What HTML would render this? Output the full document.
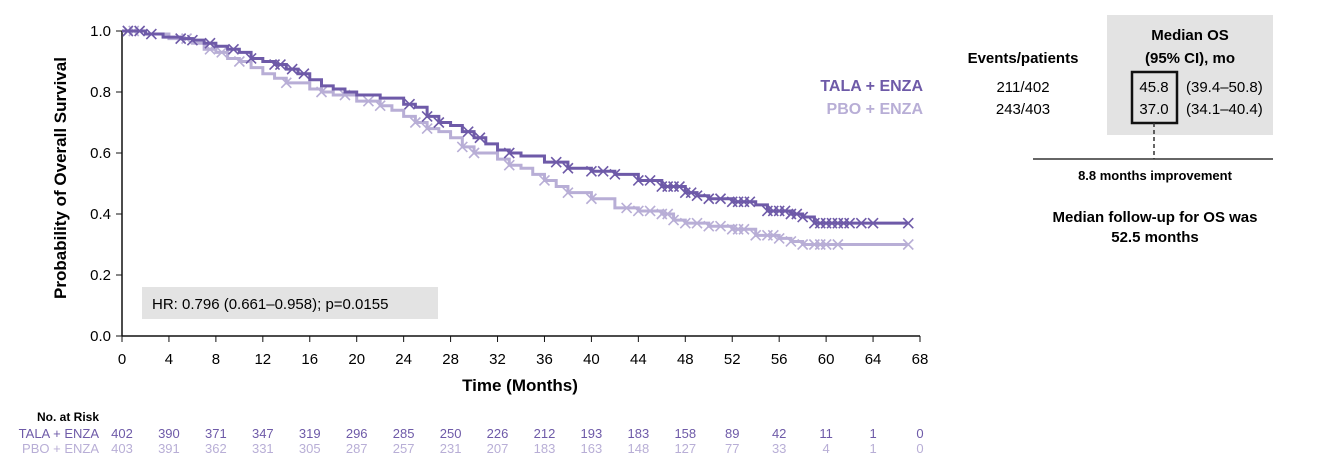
<!DOCTYPE html>
<html><head><meta charset="utf-8"><style>
body{margin:0;background:#fff;font-family:"Liberation Sans",sans-serif;}
svg text{font-family:"Liberation Sans",sans-serif;}
</style></head><body>
<svg id="c" width="1320" height="466" xmlns="http://www.w3.org/2000/svg">
<g id="axes"></g><g id="series"></g>
<text x="520" y="391" font-size="17" font-weight="bold" text-anchor="middle">Time (Months)</text>
<text transform="translate(66,178) rotate(-90)" font-size="17" font-weight="bold" text-anchor="middle">Probability of Overall Survival</text>
<rect x="142" y="287" width="296" height="32" fill="#e3e3e3"/>
<text x="152" y="309" font-size="15">HR: 0.796 (0.661–0.958); p=0.0155</text>
<text x="923" y="91" font-size="16" font-weight="bold" fill="#6e5aa8" text-anchor="end">TALA + ENZA</text>
<text x="923" y="114" font-size="16" font-weight="bold" fill="#b8aed6" text-anchor="end">PBO + ENZA</text>
<rect x="1107" y="15" width="166" height="120" fill="#e3e3e3"/>
<text x="1190" y="40" font-size="15" font-weight="bold" text-anchor="middle">Median OS</text>
<text x="1190" y="63" font-size="15" font-weight="bold" text-anchor="middle">(95% CI), mo</text>
<text x="1023" y="63" font-size="15" font-weight="bold" text-anchor="middle">Events/patients</text>
<text x="1023" y="92" font-size="15" text-anchor="middle">211/402</text>
<text x="1023" y="114" font-size="15" text-anchor="middle">243/403</text>
<rect x="1132" y="72" width="45" height="51" fill="none" stroke="#111" stroke-width="2.5"/>
<text x="1154" y="92" font-size="15" text-anchor="middle">45.8</text>
<text x="1154" y="114" font-size="15" text-anchor="middle">37.0</text>
<text x="1186" y="92" font-size="15">(39.4–50.8)</text>
<text x="1186" y="114" font-size="15">(34.1–40.4)</text>
<line x1="1154" y1="123" x2="1154" y2="159" stroke="#333" stroke-width="1.5" stroke-dasharray="4,3"/>
<line x1="1033" y1="159" x2="1273" y2="159" stroke="#333" stroke-width="1.5"/>
<text x="1155" y="180" font-size="13" font-weight="bold" text-anchor="middle">8.8 months improvement</text>
<text x="1155" y="222" font-size="15" font-weight="bold" text-anchor="middle">Median follow-up for OS was</text>
<text x="1155" y="242" font-size="15" font-weight="bold" text-anchor="middle">52.5 months</text>
<text x="68" y="421" font-size="12" font-weight="bold" text-anchor="middle">No. at Risk</text>
<text x="99" y="438" font-size="13" fill="#6e5aa8" text-anchor="end">TALA + ENZA</text>
<text x="99" y="453" font-size="13" fill="#b8aed6" text-anchor="end">PBO + ENZA</text>
<g id="risk"></g>
</svg>
<script>
const xTicks=[0,4,8,12,16,20,24,28,32,36,40,44,48,52,56,60,64,68];
const yTicks=[0,0.2,0.4,0.6,0.8,1.0];
const talaT=[0,2,3.5,5,6,7,8,9,10,11,12,13,14,15,16,17,18,19,20,22,24,25,26,27,28,29,30,31,32,33,34,36,38,40,42,44,46,48,49,50,52,54,55,57,58,59,67];
const talaS=[1,0.99,0.98,0.975,0.97,0.96,0.95,0.94,0.93,0.91,0.90,0.89,0.875,0.86,0.84,0.82,0.81,0.80,0.79,0.78,0.76,0.75,0.72,0.70,0.69,0.67,0.65,0.63,0.61,0.60,0.59,0.57,0.55,0.54,0.53,0.51,0.49,0.47,0.46,0.45,0.44,0.43,0.41,0.40,0.39,0.37,0.37];
const pboT=[0,2,4,6,7,8,9,10,11,12,13,14,16,17,18,20,22,23,24,25,26,27,28,29,30,32,33,34,35,36,37,38,40,42,44,46,47,48,50,52,54,56,57,58,67];
const pboS=[1,0.99,0.975,0.96,0.94,0.93,0.91,0.90,0.88,0.86,0.845,0.83,0.81,0.80,0.79,0.77,0.755,0.74,0.72,0.70,0.68,0.67,0.65,0.62,0.60,0.58,0.56,0.55,0.53,0.51,0.49,0.47,0.45,0.42,0.41,0.40,0.38,0.37,0.36,0.35,0.33,0.32,0.31,0.30,0.30];
const talaCens=[0.5,1.5,2.5,5,6,7.5,9.5,11,13,13.5,14.5,15.5,24.5,26,27,29.5,30.5,33,37,38,40,41,42,44,45,46,46.5,47,47.5,48,48.5,49,50,51,52,52.5,53,53.5,55,55.5,56,56.5,57,57.5,58,59,59.5,60,60.5,61,61.5,62,63,64,67];
const pboCens=[0.5,1,5.5,7.5,8.5,10,14,17,19,21,22,25,26,29,30,33,36,38,40,43,44,45,46,46.5,47,48,49,50,51,52,52.5,53,54,55,55.5,56,57,58,59,59.5,60,61,67];
const months=[0,4,8,12,16,20,24,28,32,36,40,44,48,52,56,60,64,68];
const riskTala=[402,390,371,347,319,296,285,250,226,212,193,183,158,89,42,11,1,0];
const riskPbo=[403,391,362,331,305,287,257,231,207,183,163,148,127,77,33,4,1,0];
const NS="http://www.w3.org/2000/svg";
const X=m=>122+m*(798/68), Y=p=>336-p*305;
function mk(t,a,par){const e=document.createElementNS(NS,t);for(const k in a)e.setAttribute(k,a[k]);document.getElementById(par).appendChild(e);return e;}
let ax=mk('line',{x1:122,y1:31,x2:122,y2:336,stroke:'#111','stroke-width':1.5},'axes');


let bx=mk('line',{x1:122,y1:336,x2:920,y2:336,stroke:'#111','stroke-width':1.5},'axes');


xTicks.forEach(t=>{mk('line',{x1:X(t),y1:336,x2:X(t),y2:342,stroke:'#111'},'axes');
 const l=mk('text',{x:X(t),y:364,'font-size':15,'text-anchor':'middle'},'axes');l.textContent=t;
 
 });
yTicks.forEach(t=>{mk('line',{x1:116,y1:Y(t),x2:122,y2:Y(t),stroke:'#111'},'axes');
 const l=mk('text',{x:111,y:Y(t)+5,'font-size':15,'text-anchor':'end'},'axes');l.textContent=t.toFixed(1);
 
 });
function stepAt(T,S,m){let v=S[0];for(let i=0;i<T.length;i++){if(T[i]<=m)v=S[i];}return v;}
function draw(T,S,C,col,name){let d='M'+X(T[0])+','+Y(S[0]);
 for(let i=1;i<T.length;i++){d+=' H'+X(T[i])+' V'+Y(S[i]);}
 const p=mk('path',{d:d,fill:'none',stroke:col,'stroke-width':3},'series');
 
 
 C.forEach(m=>{const x=X(m),y=Y(stepAt(T,S,m));
  const c=mk('path',{d:`M${x-5},${y-5}L${x+5},${y+5}M${x-5},${y+5}L${x+5},${y-5}`,stroke:col,'stroke-width':1.6},'series');
  
  });}
draw(pboT,pboS,pboCens,'#b8aed6','pbo');
draw(talaT,talaS,talaCens,'#6e5aa8','tala');
months.forEach((m,i)=>{
 const a=mk('text',{x:X(m),y:438,'font-size':13,fill:'#6e5aa8','text-anchor':'middle'},'risk');a.textContent=riskTala[i];
 
 
 const b=mk('text',{x:X(m),y:453,'font-size':13,fill:'#b8aed6','text-anchor':'middle'},'risk');b.textContent=riskPbo[i];
 
 });
</script>
</body></html>
